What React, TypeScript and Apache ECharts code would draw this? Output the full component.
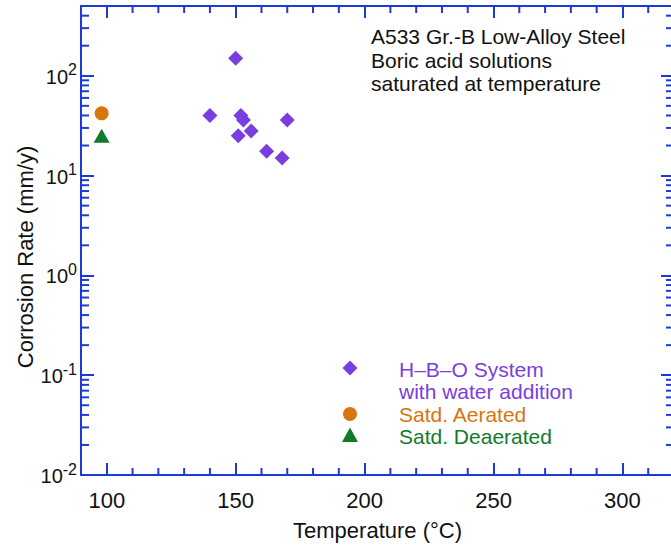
import React, { useEffect, useRef } from 'react';
import * as echarts from 'echarts';

// ---- data ----
const hboTemp = [150, 140, 152, 153, 151, 156, 170, 162, 168];
const hboRate = [150, 40, 40, 36, 25, 28, 36, 17.5, 15];
const aeratedTemp = [98];
const aeratedRate = [42];
const deaeratedTemp = [98];
const deaeratedRate = [25];

const xMajorTicks = [100, 150, 200, 250, 300];
const xMinorTicks = [110, 120, 130, 140, 160, 170, 180, 190, 210, 220, 230, 240, 260, 270, 280, 290, 310];
const yMajorTicks = [0.01, 0.1, 1, 10, 100];
const yTickExponents = ['-2', '-1', '0', '1', '2'];
const yMinorTicks = [
  0.02, 0.03, 0.04, 0.05, 0.06, 0.07, 0.08, 0.09,
  0.2, 0.3, 0.4, 0.5, 0.6, 0.7, 0.8, 0.9,
  2, 3, 4, 5, 6, 7, 8, 9,
  20, 30, 40, 50, 60, 70, 80, 90,
  200, 300, 400,
];
const annotationLines = ['A533 Gr.-B Low-Alloy Steel', 'Boric acid solutions', 'saturated at temperature'];
const legendLabels = ['H–B–O System', 'with water addition', 'Satd. Aerated', 'Satd. Deaerated'];
const yTitle = 'Corrosion Rate (mm/y)';
const xTitle = 'Temperature (°C)';

const BLUE = '#1c3ad8';
const PURPLE = '#7a3ee0';
const ORANGE = '#d6760c';
const GREEN = '#137a2c';
const FONT = '"Liberation Sans", Arial, Helvetica, sans-serif';
const TXT = '#111';

export default function App() {
  const ref = useRef<HTMLDivElement>(null);
  useEffect(() => {
    if (!ref.current) return;
    const chart = echarts.init(ref.current, null, { renderer: 'svg' });
    const zip = (a: number[], b: number[]) => a.map((v, i) => [v, b[i]]);

    const xBase = {
      type: 'value',
      min: 90,
      max: 320,
      splitLine: { show: false },
      axisLine: { show: true, onZero: false, lineStyle: { color: BLUE, width: 2 } },
      axisTick: { show: true, inside: true, length: 12, customValues: xMajorTicks, lineStyle: { color: BLUE, width: 2 } },
    };
    const yBase = {
      type: 'log',
      logBase: 10,
      min: 0.01,
      max: 500,
      splitLine: { show: false },
      axisLine: { show: true, onZero: false, lineStyle: { color: BLUE, width: 2 } },
      axisTick: { show: true, inside: true, length: 13, lineStyle: { color: BLUE, width: 2 } },
      axisLabel: { show: false },
    };
    const tickStyle = { stroke: BLUE, lineWidth: 2 };

    const option: any = {
      animation: false,
      textStyle: { fontFamily: FONT },
      grid: { left: 81, top: 6, width: 593, height: 469 },
      xAxis: [
        {
          ...xBase,
          position: 'bottom',
          name: xTitle,
          nameLocation: 'middle',
          nameGap: 44,
          nameTextStyle: { fontSize: 22, color: TXT, fontFamily: FONT, lineHeight: 22 },
          axisLabel: { show: true, customValues: xMajorTicks, fontSize: 22, lineHeight: 22, color: TXT, fontFamily: FONT, margin: 14 },
        },
        { ...xBase, position: 'top', axisLabel: { show: false } },
      ],
      yAxis: [
        { ...yBase, position: 'left' },
        { ...yBase, position: 'right' },
      ],
      series: [
        {
          type: 'custom',
          name: 'yMinor',
          silent: true,
          data: yMinorTicks.map((v) => [100, v]),
          renderItem: (params: any, api: any) => {
            const cs = params.coordSys;
            const p = api.coord([api.value(0), api.value(1)]);
            return {
              type: 'group',
              children: [
                { type: 'line', shape: { x1: cs.x, y1: p[1], x2: cs.x + 8, y2: p[1] }, style: tickStyle },
                { type: 'line', shape: { x1: cs.x + cs.width, y1: p[1], x2: cs.x + cs.width - 8, y2: p[1] }, style: tickStyle },
              ],
            };
          },
        },
        {
          type: 'custom',
          name: 'xMinor',
          silent: true,
          data: xMinorTicks.map((v) => [v, 1]),
          renderItem: (params: any, api: any) => {
            const cs = params.coordSys;
            const p = api.coord([api.value(0), api.value(1)]);
            return {
              type: 'group',
              children: [
                { type: 'line', shape: { x1: p[0], y1: cs.y + cs.height, x2: p[0], y2: cs.y + cs.height - 7 }, style: tickStyle },
                { type: 'line', shape: { x1: p[0], y1: cs.y, x2: p[0], y2: cs.y + 7 }, style: tickStyle },
              ],
            };
          },
        },
        {
          type: 'custom',
          name: 'yLabels',
          silent: true,
          data: yMajorTicks.map((v) => [100, v]),
          renderItem: (params: any, api: any) => {
            const cs = params.coordSys;
            const p = api.coord([api.value(0), api.value(1)]);
            const exp = yTickExponents[params.dataIndex];
            let expW = 0;
            for (const ch of exp) expW += (ch === '-' ? 0.333 : 0.556) * 16;
            const right = cs.x - 4;
            return {
              type: 'group',
              children: [
                {
                  type: 'text',
                  x: right - expW,
                  y: p[1] + 1,
                  style: { text: '10', fill: TXT, fontSize: 20, fontFamily: FONT, textAlign: 'right', align: 'right', textVerticalAlign: 'middle', verticalAlign: 'middle' },
                },
                {
                  type: 'text',
                  x: right,
                  y: p[1] - 6,
                  style: { text: exp, fill: TXT, fontSize: 16, fontFamily: FONT, textAlign: 'right', align: 'right', textVerticalAlign: 'middle', verticalAlign: 'middle' },
                },
              ],
            };
          },
        },
        {
          type: 'scatter',
          name: 'H–B–O System with water addition',
          symbol: 'diamond',
          symbolSize: 15,
          itemStyle: { color: PURPLE, opacity: 1 },
          data: zip(hboTemp, hboRate),
        },
        {
          type: 'scatter',
          name: 'Satd. Aerated',
          symbol: 'circle',
          symbolSize: 14,
          itemStyle: { color: ORANGE, opacity: 1 },
          data: zip(aeratedTemp, aeratedRate),
        },
        {
          type: 'scatter',
          name: 'Satd. Deaerated',
          symbol: 'triangle',
          symbolSize: [16, 14],
          itemStyle: { color: GREEN, opacity: 1 },
          data: zip(deaeratedTemp, deaeratedRate),
        },
      ],
      graphic: [
        {
          type: 'text',
          x: 25,
          y: 257,
          rotation: Math.PI / 2,
          style: {
            text: yTitle,
            fill: TXT,
            fontSize: 22,
            fontFamily: FONT,
            textAlign: 'center',
            align: 'center',
            textVerticalAlign: 'middle',
            verticalAlign: 'middle',
          },
        },
        {
          type: 'text',
          left: 371,
          top: 25,
          style: {
            text: annotationLines.join('\n'),
            fill: TXT,
            fontSize: 21,
            fontFamily: FONT,
            lineHeight: 23.5,
          },
        },
        { type: 'polygon', shape: { points: [[350, 360.5], [357.5, 368], [350, 375.5], [342.5, 368]] }, style: { fill: PURPLE } },
        { type: 'circle', shape: { cx: 350, cy: 414, r: 7 }, style: { fill: ORANGE } },
        { type: 'polygon', shape: { points: [[350, 427.5], [358, 442], [342, 442]] }, style: { fill: GREEN } },
        ...legendLabels.map((t, i) => ({
          type: 'text',
          x: 399,
          y: [369, 391.5, 414, 436][i],
          style: {
            text: t,
            fill: [PURPLE, PURPLE, ORANGE, GREEN][i],
            fontSize: 21,
            fontFamily: FONT,
            verticalAlign: 'middle',
            textVerticalAlign: 'middle',
          },
        })),
      ],
    };
    chart.setOption(option);
    return () => chart.dispose();
  }, []);
  return <div ref={ref} style={{ position: 'fixed', left: 0, top: 0, width: 680, height: 548, background: '#fff' }} />;
}
